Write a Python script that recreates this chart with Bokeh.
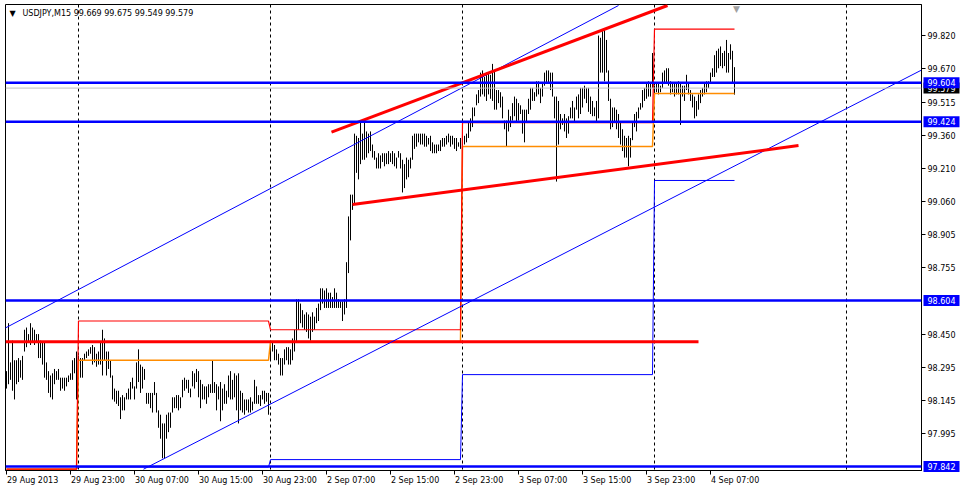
from bokeh.plotting import figure
from bokeh.models import (Range1d, LinearAxis, FixedTicker, Span, Label,
                          CustomJSTickFormatter, PrintfTickFormatter, ColumnDataSource)
from bokeh.core.properties import value
from bokeh.embed import file_html
from bokeh.resources import INLINE

# ---------------- data ----------------
symbol = "USDJPY,M15"
last_ohlc = [99.669, 99.675, 99.549, 99.579]

high_29aug = [98.28, 98.50, 98.32, 98.42, 98.33, 98.33, 98.34, 98.33, 98.35, 98.47,
              98.48, 98.45, 98.50, 98.48, 98.47, 98.45, 98.45, 98.42, 98.41, 98.41,
              98.32, 98.28, 98.26, 98.27, 98.29, 98.28, 98.29, 98.25, 98.25, 98.25,
              98.25, 98.26, 98.27, 98.33, 98.34, 98.37]
low_29aug = [98.20, 98.22, 98.24, 98.19, 98.15, 98.22, 98.23, 98.25, 98.24, 98.37,
             98.39, 98.41, 98.40, 98.41, 98.40, 98.41, 98.34, 98.34, 98.31, 98.25,
             98.24, 98.18, 98.16, 98.15, 98.22, 98.24, 98.24, 98.19, 98.20, 98.19,
             98.21, 98.23, 98.24, 98.24, 98.27, 98.15]

high_30aug = [98.35, 98.34, 98.34, 98.36, 98.37, 98.38, 98.39, 98.40, 98.39, 98.36,
              98.37, 98.41, 98.47, 98.43, 98.37, 98.37, 98.33, 98.26, 98.20, 98.19,
              98.19, 98.16, 98.17, 98.16, 98.18, 98.20, 98.23, 98.25, 98.21, 98.32,
              98.38, 98.31, 98.30, 98.29, 98.18, 98.18, 98.18, 98.18, 98.23, 98.18,
              98.10, 98.08, 98.04, 98.04, 98.08, 98.09, 98.09, 98.16, 98.16, 98.17,
              98.17, 98.16, 98.24, 98.25, 98.24, 98.24, 98.20, 98.28, 98.27, 98.29,
              98.28, 98.24, 98.22, 98.21, 98.21, 98.22, 98.22, 98.33, 98.23, 98.22,
              98.21, 98.23, 98.20, 98.22, 98.19, 98.26, 98.28, 98.24, 98.27, 98.26,
              98.27, 98.19, 98.18, 98.15, 98.15, 98.15, 98.16, 98.14, 98.24, 98.21,
              98.17, 98.17, 98.19, 98.19, 98.18, 98.18]
low_30aug = [98.30, 98.25, 98.25, 98.33, 98.34, 98.35, 98.36, 98.31, 98.32, 98.30,
             98.31, 98.31, 98.26, 98.33, 98.26, 98.29, 98.25, 98.15, 98.14, 98.13,
             98.12, 98.06, 98.10, 98.10, 98.15, 98.15, 98.15, 98.20, 98.15, 98.20,
             98.23, 98.18, 98.20, 98.24, 98.13, 98.13, 98.11, 98.09, 98.17, 98.09,
             98.02, 97.97, 97.88, 97.88, 97.97, 98.00, 98.02, 98.09, 98.11, 98.11,
             98.10, 98.11, 98.16, 98.19, 98.20, 98.18, 98.16, 98.21, 98.20, 98.23,
             98.16, 98.11, 98.15, 98.15, 98.13, 98.16, 98.18, 98.18, 98.18, 98.10,
             98.15, 98.05, 98.10, 98.13, 98.13, 98.16, 98.15, 98.15, 98.16, 98.10,
             98.04, 98.10, 98.09, 98.08, 98.10, 98.09, 98.09, 98.10, 98.13, 98.13,
             98.13, 98.12, 98.15, 98.13, 98.14, 98.08]

high_2sep_a = [98.41, 98.41, 98.40, 98.38, 98.36, 98.34, 98.34, 98.38, 98.39, 98.39,
               98.38, 98.43, 98.47, 98.61, 98.61, 98.59, 98.56, 98.54, 98.55, 98.54,
               98.53, 98.55, 98.53, 98.57, 98.59, 98.66, 98.66, 98.65, 98.66, 98.64,
               98.64, 98.62, 98.66, 98.64, 98.61, 98.60, 98.60, 98.61, 98.78]
low_2sep_a = [98.33, 98.37, 98.33, 98.33, 98.31, 98.26, 98.26, 98.31, 98.33, 98.31,
              98.31, 98.33, 98.37, 98.41, 98.47, 98.50, 98.48, 98.47, 98.46, 98.43,
              98.42, 98.46, 98.47, 98.50, 98.51, 98.56, 98.59, 98.57, 98.57, 98.57,
              98.57, 98.57, 98.57, 98.57, 98.57, 98.57, 98.51, 98.54, 98.57]

high_2sep_b = [98.99, 99.09, 99.09, 99.37, 99.36, 99.35, 99.42, 99.37, 99.42, 99.38,
               99.37, 99.38, 99.32, 99.29, 99.26, 99.28, 99.27, 99.28, 99.28, 99.28,
               99.29, 99.28, 99.29, 99.28, 99.26, 99.29, 99.28, 99.25, 99.23, 99.26,
               99.25, 99.26, 99.36, 99.37, 99.37, 99.37, 99.37, 99.37, 99.37, 99.36,
               99.35, 99.36, 99.33, 99.32, 99.32, 99.32, 99.34, 99.35, 99.35, 99.36,
               99.37, 99.36, 99.36, 99.35, 99.35, 99.33, 99.35, 99.42]
low_2sep_b = [98.73, 98.88, 99.02, 99.05, 99.19, 99.16, 99.23, 99.25, 99.25, 99.26,
              99.28, 99.29, 99.26, 99.25, 99.21, 99.21, 99.21, 99.24, 99.22, 99.23,
              99.23, 99.24, 99.23, 99.22, 99.21, 99.26, 99.21, 99.10, 99.12, 99.16,
              99.17, 99.21, 99.25, 99.30, 99.31, 99.33, 99.32, 99.32, 99.31, 99.31,
              99.32, 99.29, 99.28, 99.28, 99.28, 99.29, 99.29, 99.31, 99.31, 99.32,
              99.33, 99.31, 99.32, 99.30, 99.29, 99.31, 99.30, 99.32]

high_3_4sep = [99.36, 99.37, 99.42, 99.44, 99.49, 99.49, 99.55, 99.57, 99.65, 99.66,
               99.63, 99.65, 99.65, 99.64, 99.69, 99.66, 99.57, 99.57, 99.56, 99.54,
               99.43, 99.43, 99.48, 99.45, 99.51, 99.54, 99.53, 99.51, 99.50, 99.48,
               99.48, 99.48, 99.53, 99.58, 99.58, 99.56, 99.61, 99.61, 99.58, 99.60,
               99.65, 99.66, 99.66, 99.65, 99.65, 99.54, 99.54, 99.52, 99.46, 99.44,
               99.46, 99.44, 99.45, 99.49, 99.52, 99.49, 99.54, 99.55, 99.58, 99.58,
               99.59, 99.58, 99.58, 99.54, 99.52, 99.49, 99.52, 99.82, 99.81, 99.84,
               99.85, 99.80, 99.66, 99.53, 99.49, 99.49, 99.48, 99.46, 99.42, 99.39,
               99.36, 99.35, 99.36, 99.35, 99.42, 99.46, 99.47, 99.49, 99.51, 99.57,
               99.58, 99.60, 99.61, 99.60, 99.74, 99.59, 99.60, 99.60, 99.59, 99.65,
               99.66, 99.67, 99.67, 99.61, 99.60, 99.60, 99.60, 99.61, 99.60, 99.59,
               99.59, 99.64, 99.60, 99.57, 99.55, 99.54, 99.52, 99.55, 99.57, 99.58,
               99.60, 99.61, 99.61, 99.65, 99.67, 99.73, 99.75, 99.76, 99.77, 99.74,
               99.75, 99.80, 99.74, 99.78, 99.75, 99.675]
low_3_4sep = [99.32, 99.33, 99.35, 99.38, 99.40, 99.45, 99.50, 99.51, 99.54, 99.55,
              99.54, 99.52, 99.55, 99.53, 99.52, 99.48, 99.48, 99.51, 99.49, 99.44,
              99.39, 99.31, 99.38, 99.40, 99.43, 99.45, 99.42, 99.43, 99.46, 99.37,
              99.33, 99.42, 99.46, 99.48, 99.52, 99.52, 99.54, 99.55, 99.51, 99.54,
              99.59, 99.60, 99.60, 99.57, 99.54, 99.44, 99.15, 99.32, 99.39, 99.41,
              99.38, 99.35, 99.37, 99.44, 99.44, 99.42, 99.48, 99.44, 99.46, 99.49,
              99.53, 99.51, 99.47, 99.46, 99.45, 99.45, 99.42, 99.44, 99.65, 99.65,
              99.61, 99.65, 99.52, 99.39, 99.40, 99.42, 99.39, 99.35, 99.32, 99.29,
              99.26, 99.26, 99.22, 99.26, 99.34, 99.40, 99.38, 99.44, 99.48, 99.49,
              99.52, 99.53, 99.54, 99.54, 99.58, 99.55, 99.56, 99.55, 99.56, 99.58,
              99.60, 99.60, 99.59, 99.55, 99.56, 99.54, 99.55, 99.55, 99.41, 99.54,
              99.52, 99.57, 99.55, 99.52, 99.49, 99.44, 99.45, 99.48, 99.51, 99.54,
              99.55, 99.56, 99.58, 99.60, 99.63, 99.63, 99.65, 99.67, 99.68, 99.67,
              99.68, 99.65, 99.65, 99.71, 99.60, 99.549]

high = high_29aug + high_30aug + high_2sep_a + high_2sep_b + high_3_4sep
low = low_29aug + low_30aug + low_2sep_a + low_2sep_b + low_3_4sep
bar_index = list(range(len(high)))

# time axis (bar index of tick, label)
time_tick_bars = [0, 32, 64, 96, 128, 160, 192, 224, 256, 288, 320, 352]
time_tick_labels = ["29 Aug 2013", "29 Aug 23:00", "30 Aug 07:00", "30 Aug 15:00",
                    "30 Aug 23:00", "2 Sep 07:00", "2 Sep 15:00", "2 Sep 23:00",
                    "3 Sep 07:00", "3 Sep 15:00", "3 Sep 23:00", "4 Sep 07:00"]
day_separator_bars = [36, 132, 228, 324, 420]

# price axis
price_ticks = [97.995, 98.145, 98.295, 98.450, 98.755, 98.905, 99.060,
               99.210, 99.360, 99.515, 99.670, 99.820]

# horizontal levels
blue_levels = [99.604, 99.424, 98.604, 97.842]
bid_level = 99.579
red_level = 98.415
red_level_end_bar = 346

# trend lines: (bar, price) anchor pairs
red_upper_bars, red_upper_prices = [162.5, 330.5], [99.377, 99.958]
red_lower_bars, red_lower_prices = [173.0, 396.0], [99.045, 99.315]
blue_upper_bars, blue_upper_prices = [-1.0, 306.0], [98.476, 99.958]
blue_lower_bars, blue_lower_prices = [68.5, 458.0], [97.830, 99.664]

# daily step levels
day_start = [0, 36, 132, 228, 324]
day_end = [35, 131, 227, 323, 364]
day_red = [97.83, 98.51, 98.47, 99.42, 99.85]
day_orange = [97.83, 98.33, 98.416, 99.311, 99.554]
day_blue = [97.83, 97.84, 97.874, 98.264, 99.155]

# ---------------- figure ----------------
FONT = "DejaVu Sans"
FRAME_W, FRAME_H = 916, 466
X0, X1 = -0.5, 457.5
p = figure(frame_width=FRAME_W, frame_height=FRAME_H, output_backend="svg", toolbar_location=None,
           x_range=Range1d(X0, X1), y_range=Range1d(97.824, 99.9626),
           x_axis_location=None, y_axis_location=None,
           min_border_left=5, min_border_top=4, min_border_right=41, min_border_bottom=20,
           background_fill_color="white", border_fill_color="white")
p.xgrid.visible = False
p.ygrid.visible = False
p.outline_line_color = "black"
p.outline_line_width = 1

# right price axis
yaxis = LinearAxis(ticker=FixedTicker(ticks=price_ticks),
                   formatter=PrintfTickFormatter(format="%.3f"),
                   major_tick_out=4, major_tick_in=0, minor_tick_line_color=None,
                   major_label_standoff=2, major_label_text_font=FONT,
                   major_label_text_font_size="8px", major_label_text_color="black",
                   axis_line_color="black", major_tick_line_color="black")
p.add_layout(yaxis, "right")

# bottom time axis: tick marks on the bars, labels left-aligned after each tick (MT4 style)
xaxis_ticks = LinearAxis(ticker=FixedTicker(ticks=time_tick_bars),
                         formatter=CustomJSTickFormatter(code="return ''"),
                         major_tick_out=4, major_tick_in=0, minor_tick_line_color=None,
                         major_label_standoff=0, major_label_text_font_size="0px",
                         axis_line_color="black", major_tick_line_color="black")
p.add_layout(xaxis_ticks, "below")

# approximate DejaVu Sans advance widths (em) to left-align the centred axis labels
EM = {"0": .636, "1": .636, "2": .636, "3": .636, "4": .636, "5": .636, "6": .636,
      "7": .636, "8": .636, "9": .636, " ": .318, ":": .337, "A": .684, "u": .634,
      "g": .635, "S": .635, "e": .615, "p": .635}
def text_w(s, size=8.0):
    return sum(EM.get(c, .6) for c in s) * size
px_per_bar = FRAME_W / (X1 - X0)
label_pos = [round(b + (0.5 + text_w(t) / 2) / px_per_bar, 3)
             for b, t in zip(time_tick_bars, time_tick_labels)]
xaxis_labels = LinearAxis(ticker=FixedTicker(ticks=label_pos),
                          formatter=CustomJSTickFormatter(args=dict(labels=time_tick_labels),
                                                          code="return labels[index]"),
                          major_tick_out=0, major_tick_in=0, major_tick_line_color=None,
                          minor_tick_line_color=None, axis_line_color=None,
                          major_label_standoff=1, major_label_text_font=FONT,
                          major_label_text_font_size="8px", major_label_text_color="black")
p.add_layout(xaxis_labels, "below")

# day separators
for b in day_separator_bars:
    p.add_layout(Span(location=b, dimension="height", line_color="black",
                      line_dash="3 3", line_width=1, level="underlay"))

# bars
src = ColumnDataSource(dict(bar=bar_index, high=high, low=low))
p.segment(x0="bar", y0="low", x1="bar", y1="high", source=src,
          line_color="black", line_width=1)

# bid line
p.add_layout(Span(location=bid_level, dimension="width", line_color="#c0c0c0", line_width=1))

# daily step lines
def steps(levels):
    xs, ys = [], []
    for s, e, v in zip(day_start, day_end, levels):
        xs += [s, e]
        ys += [v, v]
    return xs, ys

bx, by = steps(day_blue)
p.line(bx, by, line_color="#0000ff", line_width=1)
ox, oy = steps(day_orange)
p.line(ox, oy, line_color="#ff8c00", line_width=1.5)
rx, ry = steps(day_red)
p.line(rx, ry, line_color="#ff0000", line_width=1.2)

# blue horizontal levels
for lv in blue_levels:
    p.add_layout(Span(location=lv, dimension="width", line_color="#0000ff", line_width=2.5))

# red horizontal level
p.line([X0, red_level_end_bar], [red_level, red_level], line_color="#ff0000", line_width=3)

# trend lines
p.line(blue_upper_bars, blue_upper_prices, line_color="#0000ff", line_width=1)
p.line(blue_lower_bars, blue_lower_prices, line_color="#0000ff", line_width=1)
p.line(red_upper_bars, red_upper_prices, line_color="#ff0000", line_width=3)
p.line(red_lower_bars, red_lower_prices, line_color="#ff0000", line_width=3)

# price boxes on the right price scale (anchored at the frame's right edge)
box_levels = [bid_level] + blue_levels
box_src = ColumnDataSource(dict(
    x=[X1] * len(box_levels), y=box_levels,
    text=["%.3f" % v for v in box_levels],
    bg=["black"] + ["#0000ff"] * len(blue_levels)))
p.text(x="x", y="y", text="text", source=box_src, x_offset=2,
       text_color=value("white"), text_font=value(FONT), text_font_size=value("8px"),
       text_baseline=value("middle"), text_align=value("left"),
       background_fill_color="bg", padding=dict(x=4, y=2), level="overlay")

# header
p.add_layout(Label(x=4, y=457, x_units="screen", y_units="screen", text="\u25bc",
                   text_font=FONT, text_font_size="8px", text_baseline="middle",
                   text_color="black"))
header = "%s  %s" % (symbol, " ".join("%.3f" % v for v in last_ohlc))
p.add_layout(Label(x=17, y=457, x_units="screen", y_units="screen", text=header,
                   text_font=FONT, text_font_size="8px", text_baseline="middle",
                   text_color="black"))
# chart shift marker
p.add_layout(Label(x=len(high), y=462, x_units="data", y_units="screen", text="\u25bc",
                   text_font=FONT, text_font_size="9px", text_baseline="middle",
                   text_align="center", text_color="#a0a0a0"))

open("out.html", "w").write(file_html(p, INLINE))
